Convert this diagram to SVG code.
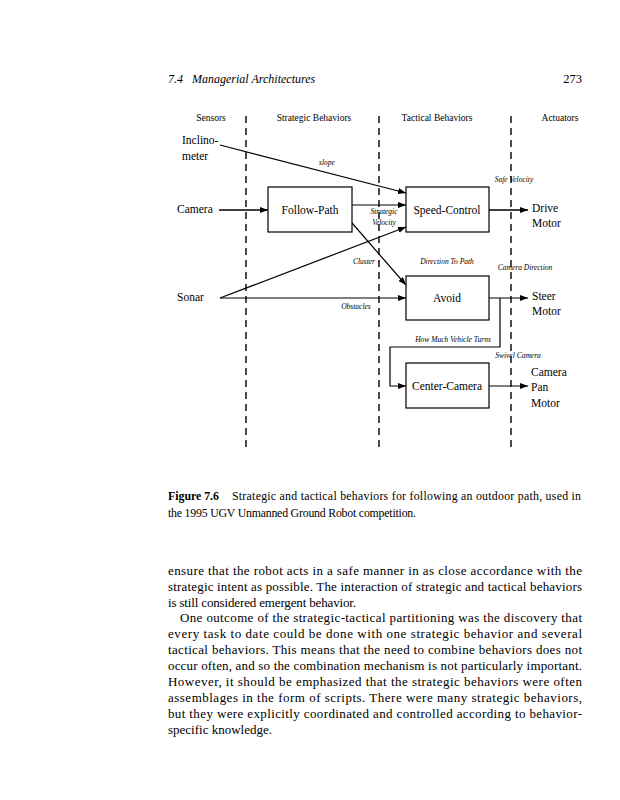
<svg xmlns="http://www.w3.org/2000/svg" width="620" height="800" viewBox="0 0 620 800">
<style>
text { font-family: "Liberation Serif", "Times New Roman", serif; fill: #000; }
.hdr { font-size: 9.5px; text-anchor: middle; }
.big { font-size: 11.5px; }
.node { font-size: 11.5px; text-anchor: middle; }
.lbl { font-size: 7.5px; font-style: italic; text-anchor: middle; }
.body { font-size: 13px; }
.box { fill: #fff; stroke: #000; stroke-width: 1.2; }
.dash { stroke: #000; stroke-width: 1.4; stroke-dasharray: 7 5; fill: none; }
.con { stroke: #000; stroke-width: 1.2; fill: none; }
</style>
<defs>
<marker id="arr" markerUnits="userSpaceOnUse" markerWidth="9" markerHeight="7" refX="8" refY="3" orient="auto">
<path d="M0,0 L8,3 L0,6 z" fill="#000"/>
</marker>
</defs>
<rect width="620" height="800" fill="#fff"/>

<g id="page-header">
<text x="168" y="83" style="font-size:12px;font-style:italic">7.4<tspan x="192">Managerial Architectures</tspan></text>
<text x="582" y="83" style="font-size:12.5px;text-anchor:end">273</text>
</g>

<g id="columns">
<text class="hdr" x="211" y="121">Sensors</text>
<text class="hdr" x="314" y="121">Strategic Behaviors</text>
<text class="hdr" x="437" y="121">Tactical Behaviors</text>
<text class="hdr" x="560" y="121">Actuators</text>
<line class="dash" x1="246" y1="116" x2="246" y2="450"/>
<line class="dash" x1="379" y1="116" x2="379" y2="450"/>
<line class="dash" x1="511" y1="116" x2="511" y2="450"/>
</g>

<g id="sensor-inclinometer">
<text class="big" x="182" y="144">Inclino-</text>
<text class="big" x="182" y="160">meter</text>
</g>
<g id="sensor-camera"><text class="big" x="177" y="213">Camera</text></g>
<g id="sensor-sonar"><text class="big" x="177" y="301">Sonar</text></g>

<g id="node-follow-path">
<rect class="box" x="268" y="187" width="84" height="45"/>
<text class="node" x="310" y="214">Follow-Path</text>
</g>
<g id="node-speed-control">
<rect class="box" x="406" y="187" width="83" height="45"/>
<text class="node" x="447" y="214">Speed-Control</text>
</g>
<g id="node-avoid">
<rect class="box" x="406" y="276" width="83" height="44"/>
<text class="node" x="447" y="302">Avoid</text>
</g>
<g id="node-center-camera">
<rect class="box" x="406" y="363" width="83" height="45"/>
<text class="node" x="447" y="390">Center-Camera</text>
</g>

<g id="actuator-drive"><text class="big" x="532" y="212">Drive</text><text class="big" x="532" y="227">Motor</text></g>
<g id="actuator-steer"><text class="big" x="532" y="300">Steer</text><text class="big" x="532" y="315">Motor</text></g>
<g id="actuator-pan"><text class="big" x="531" y="376">Camera</text><text class="big" x="531" y="391">Pan</text><text class="big" x="531" y="407">Motor</text></g>

<g id="connectors">
<line class="con" x1="219" y1="210" x2="268" y2="210" marker-end="url(#arr)" style="stroke-width:1.6"/>
<line class="con" x1="220" y1="145" x2="406" y2="193" marker-end="url(#arr)"/>
<line class="con" x1="352" y1="205" x2="406" y2="205" marker-end="url(#arr)"/>
<line class="con" x1="220" y1="298" x2="406" y2="227" marker-end="url(#arr)"/>
<line class="con" x1="352" y1="223" x2="406" y2="285" marker-end="url(#arr)"/>
<line class="con" x1="220" y1="298" x2="406" y2="298" marker-end="url(#arr)"/>
<line class="con" x1="489" y1="210" x2="528" y2="210" marker-end="url(#arr)" style="stroke-width:1.6"/>
<line class="con" x1="489" y1="298" x2="528" y2="298" marker-end="url(#arr)"/>
<polyline class="con" points="500,298 500,347 390,347 390,386 406,386" marker-end="url(#arr)"/>
<line class="con" x1="489" y1="386" x2="528" y2="386" marker-end="url(#arr)"/>
<text class="lbl" x="327" y="165">slope</text>
<text class="lbl" x="384" y="214">Strategic</text>
<text class="lbl" x="384" y="225">Velocity</text>
<text class="lbl" x="514" y="182">Safe Velocity</text>
<text class="lbl" x="364" y="264">Cluster</text>
<text class="lbl" x="356" y="309">Obstacles</text>
<text class="lbl" x="447" y="264">Direction To Path</text>
<text class="lbl" x="525" y="270">Camera Direction</text>
<text class="lbl" x="453" y="342">How Much Vehicle Turns</text>
<text class="lbl" x="518" y="358">Swivel Camera</text>
</g>

<g id="caption" style="font-size:11.8px">
<text x="168" y="500" font-weight="bold">Figure 7.6</text>
<text x="232" y="500" textLength="349" lengthAdjust="spacing">Strategic and tactical behaviors for following an outdoor path, used in</text>
<text x="168" y="517" textLength="248" lengthAdjust="spacing">the 1995 UGV Unmanned Ground Robot competition.</text>
</g>

<g id="body-text" class="body">
<text class="body" x="168" y="575" textLength="414" lengthAdjust="spacing">ensure that the robot acts in a safe manner in as close accordance with the</text>
<text class="body" x="168" y="591" textLength="414" lengthAdjust="spacing">strategic intent as possible. The interaction of strategic and tactical behaviors</text>
<text class="body" x="168" y="607" textLength="188" lengthAdjust="spacing">is still considered emergent behavior.</text>
<text class="body" x="180" y="622" textLength="402" lengthAdjust="spacing">One outcome of the strategic-tactical partitioning was the discovery that</text>
<text class="body" x="168" y="638" textLength="414" lengthAdjust="spacing">every task to date could be done with one strategic behavior and several</text>
<text class="body" x="168" y="654" textLength="414" lengthAdjust="spacing">tactical behaviors. This means that the need to combine behaviors does not</text>
<text class="body" x="168" y="670" textLength="414" lengthAdjust="spacing">occur often, and so the combination mechanism is not particularly important.</text>
<text class="body" x="168" y="686" textLength="414" lengthAdjust="spacing">However, it should be emphasized that the strategic behaviors were often</text>
<text class="body" x="168" y="702" textLength="414" lengthAdjust="spacing">assemblages in the form of scripts.  There were many strategic behaviors,</text>
<text class="body" x="168" y="718" textLength="414" lengthAdjust="spacing">but they were explicitly coordinated and controlled according to behavior-</text>
<text class="body" x="168" y="734">specific knowledge.</text>
</g>
</svg>
